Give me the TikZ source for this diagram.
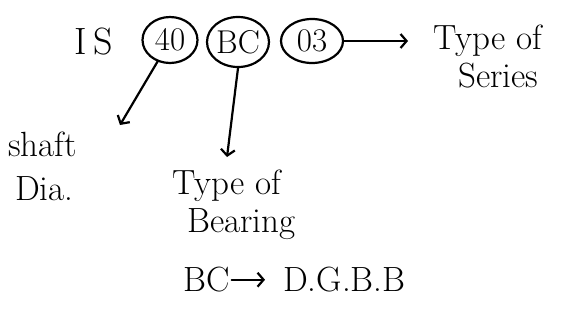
\documentclass[tikz,border=0pt]{standalone}
\usepackage{tikz}
\usetikzlibrary{arrows.meta,positioning,shapes.geometric}

\begin{document}
\begin{tikzpicture}[
x=1pt, y=-1pt,
label/.style={inner sep=0pt, align=left, font=\fontsize{35}{38}\selectfont},
code/.style={draw, ellipse, line width=2.2pt, inner sep=0pt, font=\fontsize{33}{36}\selectfont},
arrow/.style={-{Straight Barb[length=6pt, width=14pt]}, line width=2.2pt, line cap=round}
]
\useasboundingbox (0,0) rectangle (565,327);
\node[label, font=\fontsize{38}{40}\selectfont] (is) at (94,42) {I\,S};
\node[code, minimum width=55pt, minimum height=46pt] (c40) at (170,40) {40};
\node[code, minimum width=62pt, minimum height=50pt] (cbc) at (238,42) {BC};
\node[code, minimum width=62pt, minimum height=44pt] (c03) at (312,41) {03};
\node[label, anchor=north west] (series) at (433,25) {Type of\\\hspace*{25pt}Series};
\node[label, anchor=north west] (shaft) at (8,132) {shaft\\[6pt]\hspace*{7pt}Dia.};
\node[label, anchor=north west] (bearing) at (172,170) {Type of\\\hspace*{15pt}Bearing};
\node[label, anchor=north west] (bcabbr) at (183,267) {BC};
\node[label, anchor=north west] (dgbb) at (283,267) {D.G.B.B};

\coordinate (seriestip) at (408,41);
\coordinate (shafttip) at (120,125);
\coordinate (bearingtip) at (227,157);

\draw[arrow] (c03.east) -- (seriestip);
\draw[arrow] (c40.-120) -- (shafttip);
\draw[arrow] (cbc.south) -- (bearingtip);
\draw[arrow, shorten <=2pt, shorten >=18pt] (bcabbr) -- (dgbb);
\end{tikzpicture}
\end{document}
